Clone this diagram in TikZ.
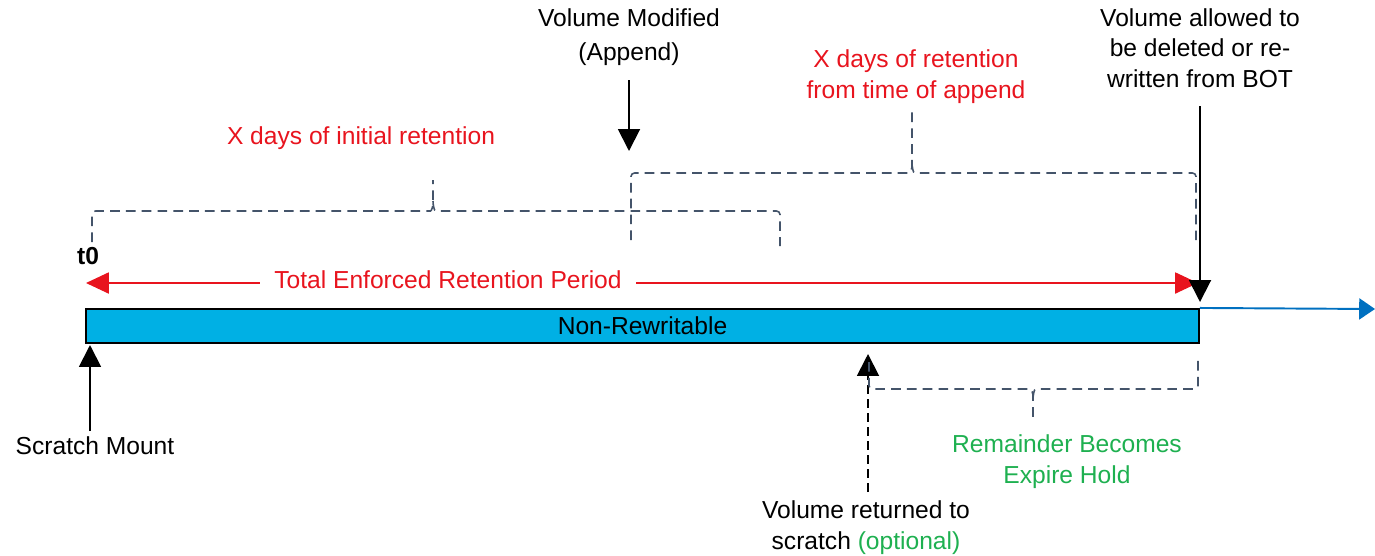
\documentclass[tikz,border=0pt]{standalone}
\usepackage{fontspec}
\setmainfont{Liberation Sans}
\usetikzlibrary{arrows.meta}

\definecolor{barblue}{RGB}{0,176,228}
\definecolor{lineblue}{RGB}{0,112,192}
\definecolor{retred}{RGB}{232,20,30}
\definecolor{holdgreen}{RGB}{30,176,80}
\definecolor{bracegray}{RGB}{68,84,106}

\tikzset{
    lbl/.style={font=\fontsize{14pt}{17.5pt}\selectfont, align=center, inner sep=1pt},
    barbox/.style={draw=black, fill=barblue, line width=1.2pt, minimum width=22.26cm, minimum height=0.68cm, inner sep=0pt, font=\fontsize{14pt}{17pt}\selectfont},
    blackarrow/.style={line width=1.1pt, -{Triangle[width=12.5pt,length=12.5pt]}},
    redarrow/.style={retred, line width=0.9pt, -{Triangle[width=12pt,length=13pt]}},
    bluearrow/.style={lineblue, line width=1.1pt, -{Triangle[width=12pt,length=9pt]}},
    bracepath/.style={bracegray, line width=0.9pt, dash pattern=on 5.5pt off 3.5pt, rounded corners=2pt},
}

\begin{document}
\begin{tikzpicture}[x=0.02cm, y=-0.02cm]
    \useasboundingbox (0,0) rectangle (1375,555);

    % the volume bar
    \node[barbox] (bar) at (642.5,326) {Non-Rewritable};
    \coordinate (future) at (1375,309);
    \draw[bluearrow] (bar.north east) -- (future);

    % total period
    \node[lbl, font=\bfseries\fontsize{14pt}{17pt}\selectfont] (tzero) at (88,256) {t0};
    \node[lbl, retred, inner xsep=8pt] (total) at (448,280) {Total Enforced Retention Period};
    \coordinate (totl) at (86,283);
    \coordinate (totr) at (1198,283);
    \draw[redarrow] (total.west |- totl) -- (totl);
    \draw[redarrow] (total.east |- totr) -- (totr);

    % events
    \node[lbl] (mount) at (95,446) {Scratch Mount};
    \coordinate (mountfoot) at (90,431);
    \coordinate (mounthead) at (90,345);
    \draw[blackarrow] (mountfoot) -- (mounthead);

    \node[lbl, font=\fontsize{14pt}{19pt}\selectfont] (modified) at (629,37) {Volume Modified\\(Append)};
    \coordinate (modfoot) at (629,80);
    \coordinate (modhead) at (629,151);
    \draw[blackarrow] (modfoot) -- (modhead);

    \node[lbl] (release) at (1200,48) {Volume allowed to\\be deleted or re-\\written from BOT};
    \coordinate (relfoot) at (1200,106);
    \coordinate (relhead) at (1200,302);
    \draw[blackarrow] (relfoot) -- (relhead);

    \node[lbl] (returned) at (866,528) {Volume returned to\\scratch \textcolor{holdgreen}{(optional)}};
    \coordinate (retfoot) at (868,492);
    \coordinate (rethead) at (868,354);
    \draw[blackarrow, dash pattern=on 5pt off 3pt] (retfoot) -- (rethead);

    % retention braces
    \node[lbl, retred] (initial) at (361,138) {X days of initial retention};
    \draw[bracepath] (92,242) |- (427,211) to[out=0,in=-90] (433,201) -- (433,180);
    \draw[bracepath] (433,201) to[out=-90,in=180] (439,211) -| (780,246);

    \node[lbl, retred] (append) at (916,77) {X days of retention\\from time of append};
    \draw[bracepath] (631,240) |- (906,173) to[out=0,in=-90] (912,163) -- (912,112);
    \draw[bracepath] (912,163) to[out=-90,in=180] (918,173) -| (1196,240);

    \node[lbl, holdgreen] (hold) at (1067,462) {Remainder Becomes\\Expire Hold};
    \draw[bracepath] (869,362) |- (1027,389) to[out=0,in=90] (1033,399) -- (1033,420);
    \draw[bracepath] (1033,399) to[out=90,in=180] (1039,389) -| (1198,360);
\end{tikzpicture}
\end{document}
